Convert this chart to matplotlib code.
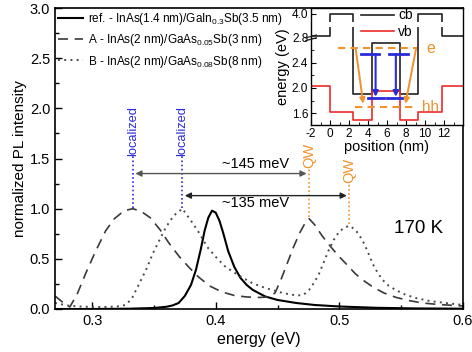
import numpy as np
import matplotlib
matplotlib.use("Agg")
import matplotlib.pyplot as plt
from matplotlib.ticker import MultipleLocator, FixedLocator

plt.rcParams['font.family'] = ['Liberation Sans', 'DejaVu Sans']
plt.rcParams['mathtext.fontset'] = 'custom'
plt.rcParams['mathtext.rm'] = 'Liberation Sans'
plt.rcParams['mathtext.default'] = 'regular'
plt.rcParams['axes.unicode_minus'] = False

# ---------------- data ----------------
ref_x = [0.270, 0.300, 0.330, 0.350, 0.360, 0.365, 0.370, 0.375, 0.380, 0.384, 0.388,
         0.391, 0.394, 0.397, 0.400, 0.403, 0.406, 0.410, 0.415, 0.420, 0.425, 0.430,
         0.440, 0.450, 0.465, 0.480, 0.500, 0.530, 0.560, 0.600]
ref_y = [0.000, 0.000, 0.003, 0.010, 0.022, 0.035, 0.060, 0.130, 0.240, 0.390, 0.600,
         0.780, 0.910, 0.980, 0.960, 0.880, 0.760, 0.580, 0.420, 0.310, 0.240, 0.190,
         0.125, 0.090, 0.060, 0.040, 0.025, 0.012, 0.006, 0.003]

a_x = [0.270, 0.276, 0.282, 0.288, 0.295, 0.303, 0.311, 0.318, 0.326, 0.333, 0.340,
       0.347, 0.355, 0.362, 0.370, 0.378, 0.386, 0.395, 0.405, 0.415, 0.425, 0.435,
       0.443, 0.448, 0.453, 0.458, 0.463, 0.468, 0.472, 0.4755, 0.480, 0.486, 0.493,
       0.500, 0.507, 0.513, 0.520, 0.527, 0.536, 0.546, 0.556, 0.567, 0.580, 0.600]
a_y = [0.130, 0.070, 0.020, 0.150, 0.360, 0.580, 0.780, 0.900, 0.980, 1.000, 0.970,
       0.910, 0.790, 0.660, 0.530, 0.420, 0.320, 0.230, 0.170, 0.135, 0.120, 0.115,
       0.120, 0.160, 0.300, 0.460, 0.620, 0.760, 0.850, 0.900, 0.840, 0.730, 0.620,
       0.520, 0.430, 0.350, 0.280, 0.220, 0.160, 0.115, 0.085, 0.060, 0.045, 0.030]

b_x = [0.270, 0.280, 0.290, 0.300, 0.310, 0.320, 0.327, 0.332, 0.338, 0.344, 0.349,
       0.355, 0.360, 0.366, 0.373, 0.380, 0.387, 0.393, 0.400, 0.407, 0.414, 0.422,
       0.430, 0.440, 0.451, 0.460, 0.466, 0.471, 0.4755, 0.480, 0.4835, 0.4875, 0.4915,
       0.4955, 0.4998, 0.504, 0.508, 0.513, 0.5185, 0.523, 0.527, 0.531, 0.535, 0.540,
       0.5455, 0.553, 0.5616, 0.573, 0.5858, 0.600]
b_y = [0.060, 0.035, 0.025, 0.020, 0.020, 0.025, 0.040, 0.100, 0.250, 0.400, 0.550,
       0.700, 0.820, 0.930, 1.000, 0.880, 0.750, 0.620, 0.520, 0.430, 0.370, 0.310,
       0.255, 0.210, 0.170, 0.145, 0.135, 0.140, 0.190, 0.270, 0.350, 0.470, 0.590,
       0.690, 0.770, 0.810, 0.830, 0.790, 0.690, 0.570, 0.450, 0.360, 0.290, 0.230,
       0.190, 0.145, 0.110, 0.080, 0.060, 0.040]

labels = ['ref. - InAs(1.4 nm)/GaIn$_{0.3}$Sb(3.5 nm)',
          'A - InAs(2 nm)/GaAs$_{0.05}$Sb(3 nm)',
          'B - InAs(2 nm)/GaAs$_{0.08}$Sb(8 nm)']

loc_peaks = [0.333, 0.373]      # localized peak energies (A, B)
loc_heights = [1.01, 1.01]
qw_peaks = [0.4755, 0.508]      # QW peak energies (A, B)
qw_heights = [0.92, 0.85]
shift_texts = ['~145 meV', '~135 meV']
shift_arrow_y = [1.35, 1.13]
shift_text_y = [1.45, 1.06]

# inset band profile
pos_edges = [-2, 0, 2.45, 4.4, 7.35, 9.3, 11.8, 14]
cb_levels = [2.83, 4.0, 1.9, 2.72, 1.9, 4.0, 2.83]
vb_levels = [2.03, 1.62, 1.49, 1.96, 1.49, 1.62, 2.03]
e_level, e_span = 2.63, (0.8, 9.2)
hh_level, hh_span = 1.70, (2.6, 9.1)
orange_arrows = [((2.7, 2.63), (3.5, 1.75)), ((9.06, 2.63), (7.95, 1.75))]
blue_top_level = 2.54
blue_top_spans = [(3.25, 5.2), (6.2, 8.2)]
blue_bot_level = 1.84
blue_bot_spans = [(4.04, 5.65), (5.99, 7.6)]
blue_arrow_x = [4.8, 6.93]

# ---------------- figure ----------------
fig = plt.figure(figsize=(4.72, 3.52), dpi=100)
ax = fig.add_axes([55/472, 43/352, 408/472, 301/352])

l1, = ax.plot(ref_x, ref_y, color='black', lw=1.5, ls='-')
l2, = ax.plot(a_x, a_y, color='#3a3a3a', lw=1.2, ls=(0, (6, 4)))
l3, = ax.plot(b_x, b_y, color='#4a4a4a', lw=1.4, ls=(0, (1, 2.2)))

ax.set_xlim(0.27, 0.6)
ax.set_ylim(0, 3.0)
ax.xaxis.set_major_locator(FixedLocator([0.3, 0.4, 0.5, 0.6]))
ax.xaxis.set_minor_locator(FixedLocator([0.35, 0.45, 0.55]))
ax.yaxis.set_major_locator(MultipleLocator(0.5))
ax.yaxis.set_minor_locator(MultipleLocator(0.25))
ax.xaxis.set_major_formatter(matplotlib.ticker.FuncFormatter(lambda v, p: f'{v:.1f}'))
ax.yaxis.set_major_formatter(matplotlib.ticker.FuncFormatter(lambda v, p: f'{v:.1f}'))
ax.tick_params(which='both', direction='in', labelsize=10.5)
ax.tick_params(which='major', length=5, width=1)
ax.tick_params(which='minor', length=3, width=1)
for s in ax.spines.values():
    s.set_linewidth(1.2)
ax.set_xlabel('energy (eV)', fontsize=11.5, labelpad=3)
ax.set_ylabel('normalized PL intensity', fontsize=11, labelpad=2)

leg = ax.legend([l1, l2, l3], labels, loc='upper left', bbox_to_anchor=(0.0, 1.0),
                frameon=False, fontsize=8.5, handlelength=2.1, handletextpad=0.45,
                labelspacing=0.45, borderaxespad=0.0, borderpad=0.25)

blue = '#2a2ad8'
orange = '#f0922e'
for xp, yh in zip(loc_peaks, loc_heights):
    ax.plot([xp, xp], [yh, 1.52], color=blue, lw=1.2, ls=(0, (1, 1.5)))
    ax.text(xp, 1.52, 'localized', rotation=90, color=blue, fontsize=9.3,
            ha='center', va='bottom')
qw_tops = [1.41, 1.26]
for xp, yh, yt in zip(qw_peaks, qw_heights, qw_tops):
    ax.plot([xp, xp], [yh, yt], color=orange, lw=1.2, ls=(0, (1, 1.5)))
    ax.text(xp, yt, 'QW', rotation=90, color=orange, fontsize=10.5,
            ha='center', va='bottom')

arrow_cols = ['#555555', '#222222']
for i in range(2):
    ax.annotate('', xy=(qw_peaks[i] - 0.002, shift_arrow_y[i]),
                xytext=(loc_peaks[i] + 0.002, shift_arrow_y[i]),
                arrowprops=dict(arrowstyle='<|-|>', color=arrow_cols[i], lw=1.0,
                                mutation_scale=9, shrinkA=0, shrinkB=0))
    ax.text(0.432, shift_text_y[i], shift_texts[i], fontsize=10.5,
            ha='center', va='center')

ax.text(0.564, 0.80, '170 K', fontsize=13.5, ha='center', va='center')

# ---------------- inset ----------------
axi = fig.add_axes([311/472, (352-125)/352, 152/472, 117/352])
fwd = lambda y: np.where(np.asarray(y) <= 3.0, y, 3.0 + (np.asarray(y) - 3.0) * 0.18)
inv = lambda t: np.where(np.asarray(t) <= 3.0, t, 3.0 + (np.asarray(t) - 3.0) / 0.18)
axi.set_yscale('function', functions=(fwd, inv))

lc, = axi.plot(pos_edges, cb_levels + [cb_levels[-1]], drawstyle='steps-post',
               color='#222222', lw=1.2, zorder=2)
lv, = axi.plot(pos_edges, vb_levels + [vb_levels[-1]], drawstyle='steps-post',
               color='#ee2a2a', lw=1.2, zorder=2)
# axis break: white band across the lines
axi.axhspan(2.98, 3.25, xmin=0.012, xmax=0.995, color='white', zorder=3, lw=0)
for dy in (-0.012, 0.012):
    axi.plot([-0.035, 0.035], [0.745 + dy - 0.012, 0.745 + dy + 0.012],
             transform=axi.transAxes, color='#222222', lw=0.9, clip_on=False, zorder=5)

axi.plot(list(e_span), [e_level, e_level], color=orange, lw=1.5, ls=(0, (3.5, 2.5)), zorder=4)
axi.plot(list(hh_span), [hh_level, hh_level], color=orange, lw=1.5, ls=(0, (3.5, 2.5)), zorder=4)
for (x0, y0), (x1, y1) in orange_arrows:
    axi.annotate('', xy=(x1, y1), xytext=(x0, y0),
                 arrowprops=dict(arrowstyle='-|>', color=orange, lw=1.4,
                                 mutation_scale=8, shrinkA=0, shrinkB=0), zorder=4)
for (x0, x1) in blue_top_spans:
    axi.plot([x0, x1], [blue_top_level, blue_top_level], color=blue, lw=2.0, zorder=4)
for (x0, x1) in blue_bot_spans:
    axi.plot([x0, x1], [blue_bot_level, blue_bot_level], color=blue, lw=2.0, zorder=4)
for xa in blue_arrow_x:
    axi.annotate('', xy=(xa, blue_bot_level + 0.02), xytext=(xa, blue_top_level),
                 arrowprops=dict(arrowstyle='-|>', color=blue, lw=1.5,
                                 mutation_scale=8, shrinkA=0, shrinkB=0), zorder=4)
axi.text(10.1, e_level, 'e', color=orange, fontsize=11.5, ha='left', va='center')
axi.text(9.7, hh_level, 'hh', color=orange, fontsize=11, ha='left', va='center')

axi.set_xlim(-2, 14)
axi.set_ylim(1.41, 4.53)
axi.xaxis.set_major_locator(FixedLocator([-2, 0, 2, 4, 6, 8, 10, 12]))
axi.xaxis.set_minor_locator(MultipleLocator(1))
axi.yaxis.set_major_locator(FixedLocator([1.6, 2.0, 2.4, 2.8, 4.0]))
axi.yaxis.set_minor_locator(FixedLocator([1.8, 2.2, 2.6]))
axi.yaxis.set_major_formatter(matplotlib.ticker.FuncFormatter(lambda v, p: f'{v:.1f}'))
axi.tick_params(which='both', direction='in', labelsize=8.5, pad=2)
axi.tick_params(which='major', length=3.5)
axi.tick_params(which='minor', length=2)
axi.set_xlabel('position (nm)', fontsize=10.5, labelpad=0)
axi.set_ylabel('energy (eV)', fontsize=10.5, labelpad=1)
for s in axi.spines.values():
    s.set_linewidth(1.0)
axi.legend([lc, lv], ['cb', 'vb'], loc='upper left', bbox_to_anchor=(0.31, 1.02),
           frameon=False, fontsize=10, handlelength=2.4, handletextpad=0.3,
           labelspacing=0.15, borderaxespad=0.0, borderpad=0.2)

fig.savefig('out.png', dpi=100)
